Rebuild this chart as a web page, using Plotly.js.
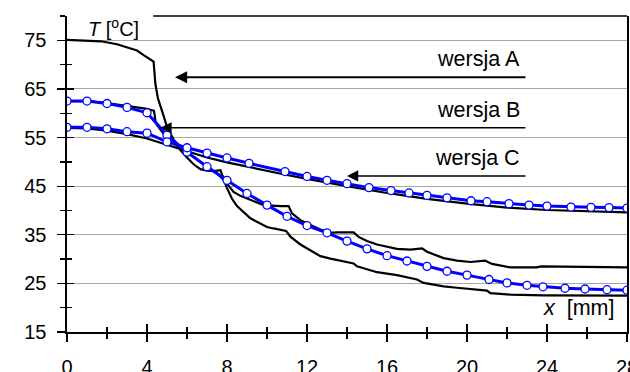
<!DOCTYPE html>
<html>
<head>
<meta charset="utf-8">
<script src="https://cdn.plot.ly/plotly-3.0.1.min.js"></script>
<style>
html,body{margin:0;padding:0;background:#fff;}
#chart{width:630px;height:372px;}
</style>
</head>
<body>
<div id="chart"></div>
<script>
// ---- data ----
const xTickVals = [0, 4, 8, 12, 16, 20, 24, 28];
const yTickVals = [15, 25, 35, 45, 55, 65, 75];

const blackA_x = [0,1,1.7,2.5,3,3.5,3.85,4.2,4.33,4.42,4.55,4.75,5.0,5.33,5.67,6.0,6.33,6.67,7.0,7.33,7.55,7.67,7.75,7.9,8.1,8.33,8.67,9,9.5,9.83,10.67,11.08,11.25,11.67,12.17,12.67,13.17,13.5,14.33,14.6,15,15.5,16.5,17.17,17.75,18,18.83,19.5,20.17,20.5,20.9,21.25,22.17,23.5,23.7,28];
const blackA_y = [75.1,75.0,74.8,74.2,73.6,72.9,71.9,71.0,70.6,66.0,63.0,60.5,57.2,54.6,52.4,50.9,49.5,48.5,48.2,48.1,48.2,48.3,47.4,46.2,45.0,43.8,43.0,42.45,41.6,41.1,40.9,40.9,39.4,38.0,37.0,36.1,35.4,35.5,35.5,34.5,33.7,33.0,32.1,31.95,32.2,31.5,30.2,29.7,29.4,29.5,29.7,29.0,28.3,28.3,28.5,28.3];

const blackB_x = [0,1,2,3,4,4.35,4.42,4.5,4.75,5.08,5.5,6,6.5,7,7.5,7.85,8.0,8.25,8.5,9.17,10,10.33,10.67,10.95,11.1,11.17,11.67,12.17,12.67,13.17,13.83,14.33,14.5,15.5,16.5,17.17,17.5,17.83,18.83,19.5,20.67,21.0,21.17,22.17,23.83,28];
const blackB_y = [62.5,62.5,62.1,61.5,60.9,60.5,58.5,57.6,56.2,54.4,53.3,52.0,50.5,49.1,47.6,46.2,44.6,42.4,40.9,38.4,36.6,36.3,36.0,35.8,35.0,34.6,33.0,31.8,30.6,30.1,29.5,29.1,28.5,27.3,26.7,26.1,25.8,25.1,24.4,24.1,23.6,23.5,23.0,22.7,22.55,22.5];

const blackC_x = [0,1,2,3,4,5,6,7,8,9,10,11,12,13,14,16,18,20,22,24,26,28];
const blackC_y = [57.0,56.9,56.4,55.7,54.8,53.5,52.1,50.9,49.9,49.0,48.1,47.3,46.5,45.7,45.0,43.6,42.4,41.4,40.6,40.1,39.8,39.6];

const blueB_x = [0,1,2,3,4,5,6,7,8,9,10,11,12,13,14,15,16,17,18,19,20,21.1,22,23,23.8,24.9,25.9,27,28];
const blueB_y = [62.5,62.5,62.0,61.2,60.1,55.5,52.0,49.0,46.2,43.5,41.1,38.8,36.9,35.4,33.7,32.1,30.7,29.6,28.5,27.5,26.7,25.8,25.1,24.6,24.3,24.0,23.85,23.7,23.6];

const blueC_x = [0,1,2,3,4,5,6,7,8,9.1,10.9,12,13,14,15.1,16.2,17.1,18,19,20.2,21,22.1,23.1,24,25.2,26.2,27.1,28];
const blueC_y = [57.1,57.1,56.8,56.2,55.9,54.1,52.9,51.8,50.8,49.7,48.0,47.0,46.2,45.5,44.7,44.1,43.6,43.1,42.6,42.0,41.8,41.4,41.1,40.9,40.7,40.65,40.6,40.5];

const versionLabels = ['wersja A', 'wersja B', 'wersja C'];
const xLabel = '<i>x</i>\u00a0\u00a0[mm]';
const yLabel = '<i>T</i>\u00a0[<sup>o</sup>C]';

// ---- chart ----
const FONT = 'Arial, "Liberation Sans", sans-serif';
const blackLine = {color: '#000000', width: 2.2};
const blueStyle = {
  mode: 'lines+markers',
  line: {color: '#0000ff', width: 3},
  marker: {symbol: 'circle', size: 8, color: '#ffffff', line: {color: '#0000ff', width: 1.3}}
};

const traces = [
  {x: blackA_x, y: blackA_y, mode: 'lines', line: blackLine, xaxis: 'x', yaxis: 'y', hoverinfo: 'skip'},
  {x: blackB_x, y: blackB_y, mode: 'lines', line: blackLine, xaxis: 'x', yaxis: 'y', hoverinfo: 'skip'},
  {x: blackC_x, y: blackC_y, mode: 'lines', line: blackLine, xaxis: 'x', yaxis: 'y', hoverinfo: 'skip'},
  Object.assign({x: blueB_x, y: blueB_y, xaxis: 'x2', yaxis: 'y2', hoverinfo: 'skip'}, blueStyle),
  Object.assign({x: blueC_x, y: blueC_y, xaxis: 'x2', yaxis: 'y2', hoverinfo: 'skip'}, blueStyle)
];

const XR = [0, 28], YR = [15, 80];
const tickFont = {family: FONT, size: 20, color: '#000'};
const labelFont = {family: FONT, size: 21.5, color: '#000'};

const layout = {
  width: 630, height: 372,
  margin: {l: 67, r: 3, t: 16, b: 40, pad: 0},
  paper_bgcolor: '#fff', plot_bgcolor: '#fff',
  showlegend: false,
  font: {family: FONT, size: 18, color: '#000'},
  xaxis: {
    range: XR, fixedrange: true, tickmode: 'array', tickvals: xTickVals,
    ticks: 'outside', ticklen: 8, tickwidth: 1.3, tickcolor: '#000',
    minor: {dtick: 2, tick0: 0, ticks: 'outside', ticklen: 5, tickwidth: 1.3, tickcolor: '#000', showgrid: false},
    showline: true, linecolor: '#000', linewidth: 1.6,
    showgrid: false, zeroline: false, tickfont: tickFont, ticklabelstandoff: 8,
    ticklabeloverflow: 'allow'
  },
  yaxis: {
    range: YR, fixedrange: true, tickmode: 'array', tickvals: yTickVals,
    ticks: 'outside', ticklen: 8, tickwidth: 1.3, tickcolor: '#000',
    minor: {dtick: 10, tick0: 20, ticks: 'outside', ticklen: 5, tickwidth: 1.3, tickcolor: '#000', showgrid: false},
    showline: true, linecolor: '#000', linewidth: 1.6, mirror: true,
    showgrid: true, gridcolor: '#a6a6a6', gridwidth: 1,
    zeroline: false, tickfont: tickFont, ticklabelstandoff: 7
  },
  xaxis2: {
    range: XR, fixedrange: true, overlaying: 'x', anchor: 'y2', side: 'bottom',
    tickmode: 'array', tickvals: xTickVals, showticklabels: false,
    ticks: 'inside', ticklen: 8, tickwidth: 1.3, tickcolor: '#000',
    minor: {dtick: 2, tick0: 0, ticks: 'inside', ticklen: 5, tickwidth: 1.3, tickcolor: '#000', showgrid: false},
    showline: false, showgrid: false, zeroline: false
  },
  yaxis2: {
    range: YR, fixedrange: true, overlaying: 'y', anchor: 'x2', side: 'left',
    tickmode: 'array', tickvals: yTickVals, showticklabels: false,
    ticks: 'inside', ticklen: 7, tickwidth: 1.3, tickcolor: '#000',
    minor: {dtick: 10, tick0: 20, ticks: 'inside', ticklen: 5, tickwidth: 1.3, tickcolor: '#000', showgrid: false},
    showline: false, showgrid: false, zeroline: false
  },
  shapes: [
    {type: 'line', xref: 'paper', yref: 'paper', x0: 0.154, x1: 1, y0: 1, y1: 1, line: {color: '#000', width: 1.6}}
  ],
  annotations: [
    // arrows
    {xref: 'x', yref: 'y', axref: 'x', ayref: 'y', x: 5.4, y: 67.4, ax: 23.0, ay: 67.4, text: '', showarrow: true, arrowhead: 2, arrowsize: 1.1, arrowwidth: 2.2, arrowcolor: '#000'},
    {xref: 'x', yref: 'y', axref: 'x', ayref: 'y', x: 4.67, y: 57.0, ax: 23.0, ay: 57.0, text: '', showarrow: true, arrowhead: 2, arrowsize: 1.6, arrowwidth: 1.4, arrowcolor: '#000'},
    {xref: 'x', yref: 'y', axref: 'x', ayref: 'y', x: 14.0, y: 47.1, ax: 23.0, ay: 47.1, text: '', showarrow: true, arrowhead: 2, arrowsize: 1.6, arrowwidth: 1.4, arrowcolor: '#000'},
    // labels
    {xref: 'x', yref: 'y', x: 22.75, y: 71.1, xanchor: 'right', yanchor: 'middle', text: versionLabels[0], showarrow: false, font: labelFont},
    {xref: 'x', yref: 'y', x: 22.75, y: 60.6, xanchor: 'right', yanchor: 'middle', text: versionLabels[1], showarrow: false, font: labelFont},
    {xref: 'x', yref: 'y', x: 22.75, y: 50.7, xanchor: 'right', yanchor: 'middle', text: versionLabels[2], showarrow: false, font: labelFont},
    {xref: 'x', yref: 'y', x: 27.45, y: 20.0, xanchor: 'right', yanchor: 'middle', text: xLabel, showarrow: false, font: labelFont},
    {xref: 'x', yref: 'y', x: 0.95, y: 77.6, xanchor: 'left', yanchor: 'middle', text: yLabel, showarrow: false, font: {family: FONT, size: 20, color: '#000'}}
  ]
};

Plotly.newPlot('chart', traces, layout, {staticPlot: true, displayModeBar: false});
</script>
</body>
</html>
